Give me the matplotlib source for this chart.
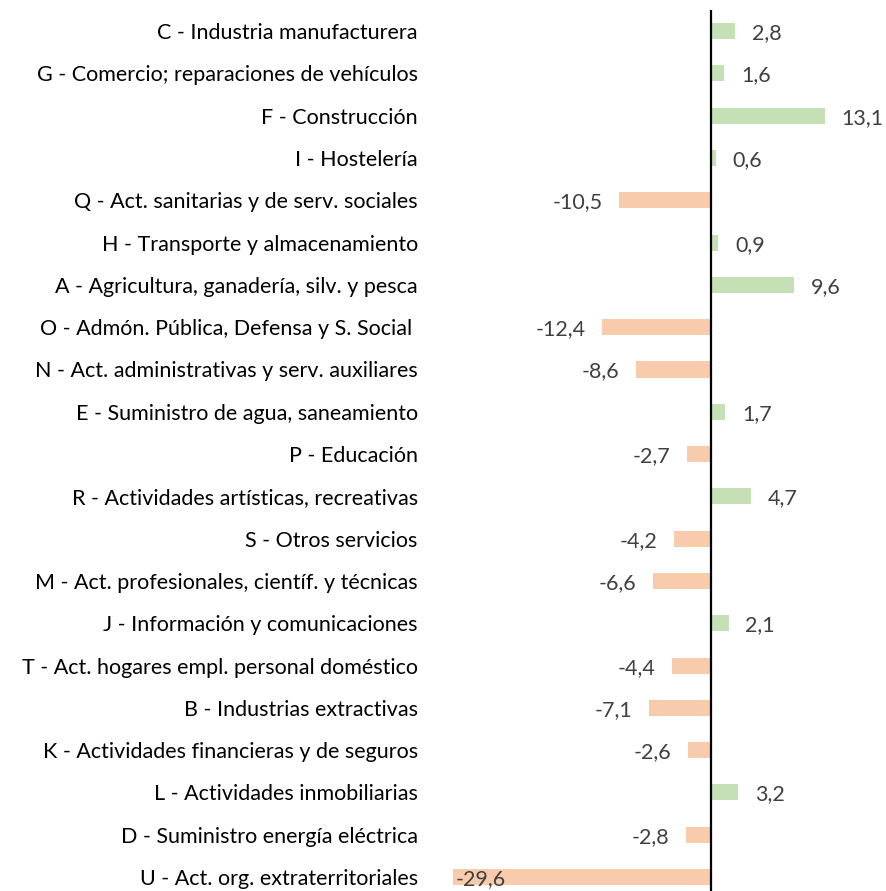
import matplotlib.pyplot as plt

plt.rcParams["font.family"] = ["Lato", "DejaVu Sans"]

# Data
sectors = [
    "C - Industria manufacturera",
    "G - Comercio; reparaciones de vehículos",
    "F - Construcción",
    "I - Hostelería",
    "Q - Act. sanitarias y de serv. sociales",
    "H - Transporte y almacenamiento",
    "A - Agricultura, ganadería, silv. y pesca",
    "O - Admón. Pública, Defensa y S. Social ",
    "N - Act. administrativas y serv. auxiliares",
    "E - Suministro de agua, saneamiento",
    "P - Educación",
    "R - Actividades artísticas, recreativas",
    "S - Otros servicios",
    "M - Act. profesionales, científ. y técnicas",
    "J - Información y comunicaciones",
    "T - Act. hogares empl. personal doméstico",
    "B - Industrias extractivas",
    "K - Actividades financieras y de seguros",
    "L - Actividades inmobiliarias",
    "D - Suministro energía eléctrica",
    "U - Act. org. extraterritoriales",
]
values = [2.8, 1.6, 13.1, 0.6, -10.5, 0.9, 9.6, -12.4, -8.6, 1.7, -2.7,
          4.7, -4.2, -6.6, 2.1, -4.4, -7.1, -2.6, 3.2, -2.8, -29.6]

green = "#C5E0B4"
orange = "#F8CBAD"

W, H = 887, 891
zero_px, scale = 710.5, 8.71
ax_left = 440

fig = plt.figure(figsize=(W / 100, H / 100), dpi=100)
ax = fig.add_axes([ax_left / W, 0, (W - ax_left) / W, (H - 10) / H])

ypos = list(range(len(values)))
colors = [green if v >= 0 else orange for v in values]
ax.barh(ypos, values, height=0.38, color=colors)

ax.set_ylim((H - 31) / 42.3, -0.5)
ax.set_xlim(-(zero_px - ax_left) / scale, (W - zero_px) / scale)
ax.axvline(0, color="black", lw=1.6)

ax.set_yticks(ypos)
ax.set_yticklabels(sectors, fontsize=15.5, color="black")
ax.tick_params(axis="y", length=0, pad=16)
ax.set_xticks([])
for s in ax.spines.values():
    s.set_visible(False)

xmin = ax.get_xlim()[0]
for y, v in zip(ypos, values):
    txt = f"{v:.1f}".replace(".", ",")
    if v >= 0:
        ax.annotate(txt, (v, y), xytext=(12, -1.5), textcoords="offset points",
                    ha="left", va="center", fontsize=15.5, color="#404040")
    elif v < xmin + 5:
        # no room on the left: label sits inside the bar
        ax.annotate(txt, (v, y), xytext=(2, -1.5), textcoords="offset points",
                    ha="left", va="center", fontsize=15.5, color="#404040")
    else:
        ax.annotate(txt, (v, y), xytext=(-12, -1.5), textcoords="offset points",
                    ha="right", va="center", fontsize=15.5, color="#404040")

fig.savefig("out.png", dpi=100)
